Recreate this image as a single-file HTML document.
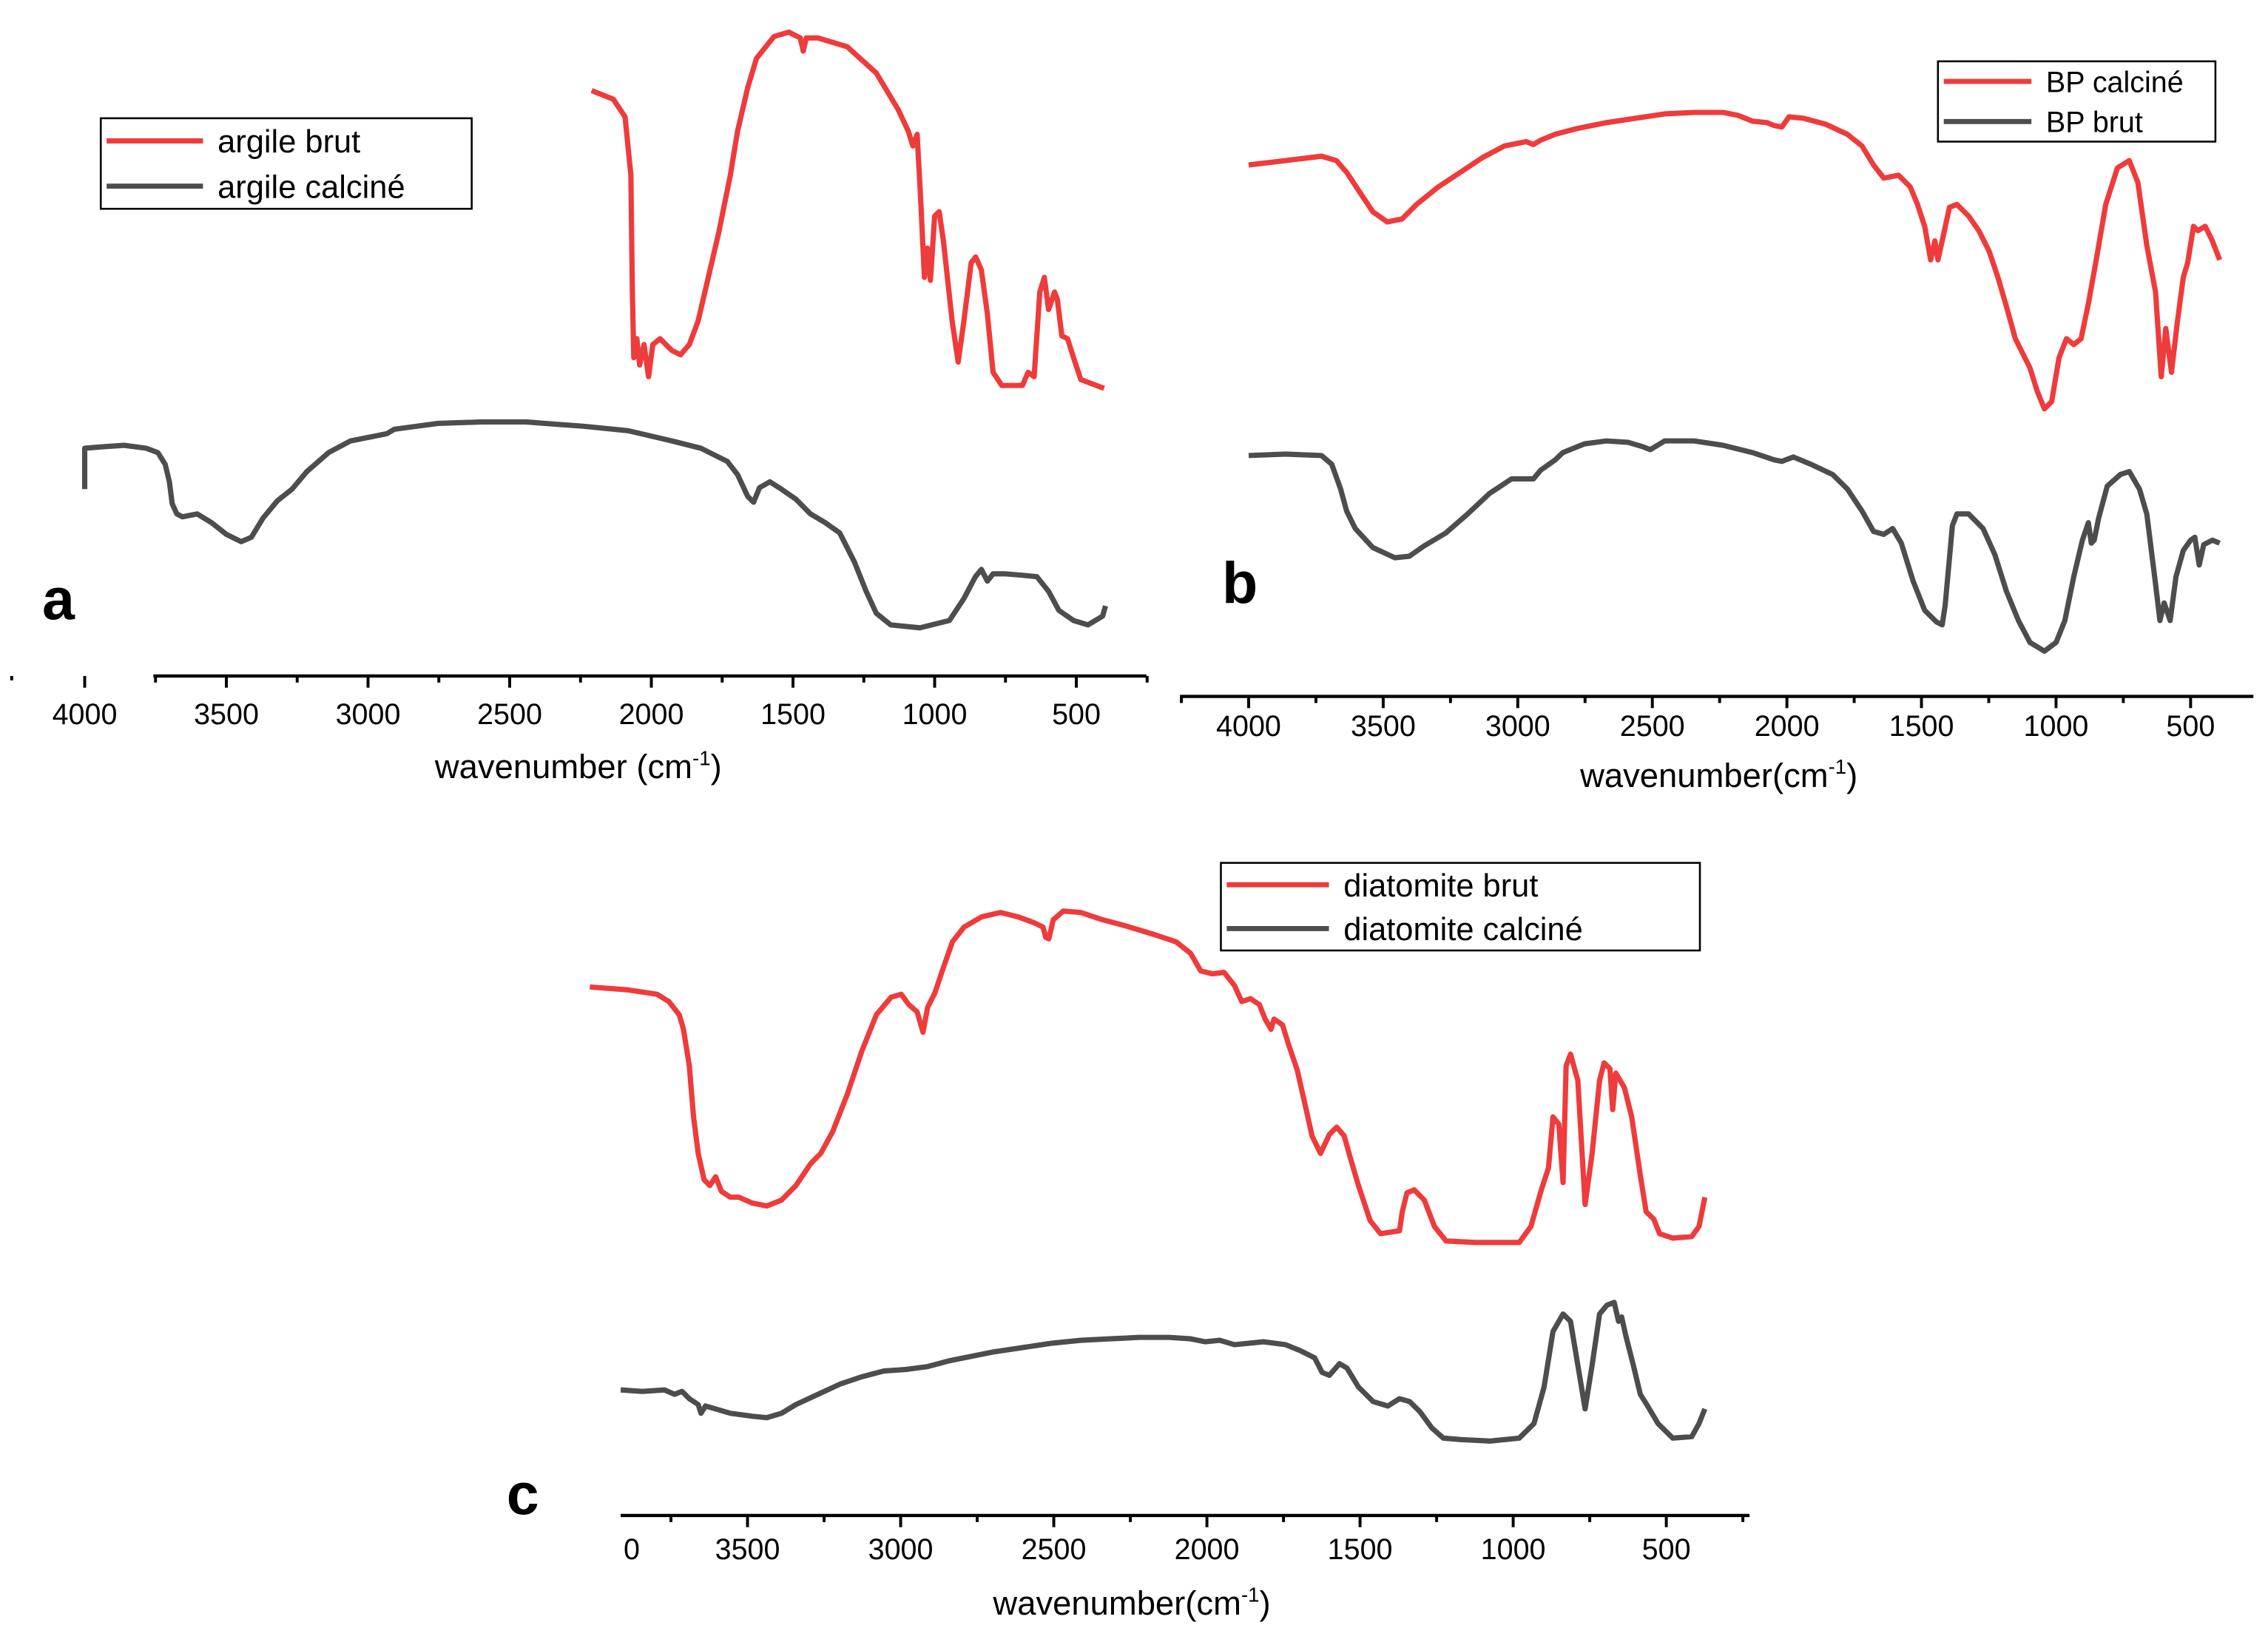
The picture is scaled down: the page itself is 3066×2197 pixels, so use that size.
<!DOCTYPE html>
<html><head><meta charset="utf-8"><style>
html,body{margin:0;padding:0;background:#fff;}
svg{display:block;}
text{font-family:"Liberation Sans",Arial,sans-serif;fill:#000;}
</style></head><body>
<svg id="fig" xmlns="http://www.w3.org/2000/svg" width="3066" height="2197" viewBox="0 0 1553 1113" preserveAspectRatio="none">
</svg>
<script>
// ---------- Panel a (argile) ----------
const aRedW = [2211,2134,2093,2072,2067,2062,2051,2041,2026,2010,1995,1969,1928,1897,1866,1835,1799,1763,1721,1696,1660,1629,1567,1515,1474,1464,1453,1412,1309,1206,1129,1093,1077,1062,1051,1036,1026,1015,1000,984,969,938,917,897,871,855,835,814,794,763,690,670,649,629,613,598,577,567,551,531,510,484,443,402];
const aRedT = [408,402,390,350,270,225,238,220,234,212,234,238,230,227,234,250,280,310,350,380,410,430,445,448,444,435,444,444,438,420,395,380,370,378,340,280,300,278,322,325,305,250,222,250,290,294,285,255,215,206,206,215,212,270,280,258,270,265,240,238,225,210,207,204];
const aBlkW = [4000,4000,3938,3861,3783,3742,3716,3701,3691,3675,3655,3603,3552,3500,3448,3412,3371,3320,3268,3216,3139,3062,2984,2933,2907,2830,2753,2598,2443,2237,2082,1928,1825,1732,1696,1660,1639,1618,1582,1541,1489,1438,1386,1335,1283,1242,1206,1155,1052,948,897,856,835,814,794,753,690,639,598,562,510,459,407,397];
const aBlkT = [135,163,164,165,163,160,152,140,125,118,116,118,112,104,99,102,115,127,135,147,160,168,171,173,176,178,180,181,181,178,175,168,163,154,145,130,126,136,140,135,128,118,112,105,85,65,50,42,40,45,60,75,80,72,77,77,76,75,65,52,45,42,48,55];
// ---------- Panel b (BP) ----------
const bRedW = [4000,3864,3729,3674,3636,3593,3539,3485,3430,3376,3295,3213,3132,3050,2969,2942,2915,2861,2779,2671,2562,2454,2345,2237,2182,2128,2074,2047,2019,1992,1938,1857,1775,1721,1678,1640,1585,1542,1515,1488,1466,1450,1439,1423,1396,1368,1325,1287,1249,1216,1184,1151,1124,1097,1070,1043,1016,989,961,934,907,880,848,815,772,728,696,663,630,609,592,571,549,527,511,489,473,446,419,392];
const bRedT = [364,367,370,367,359,347,332,325,327,337,349,359,369,377,380,378,381,385,389,393,396,399,400,400,398,394,393,391,390,397,396,392,385,377,364,355,357,349,337,322,299,312,299,312,335,337,329,319,305,287,267,245,235,225,209,197,202,232,245,241,245,269,302,337,362,367,352,309,277,219,252,222,257,287,297,322,319,322,312,299];
const bBlkW = [4000,3864,3729,3691,3658,3636,3604,3539,3457,3403,3349,3267,3186,3105,3023,2942,2915,2861,2833,2752,2671,2589,2535,2508,2454,2345,2237,2128,2047,2019,1976,1911,1830,1775,1721,1678,1640,1607,1575,1531,1488,1444,1423,1412,1385,1368,1325,1271,1227,1184,1140,1097,1043,1000,967,934,902,880,869,858,842,810,761,728,690,663,630,614,598,576,554,527,500,484,468,451,419,392];
const bBlkT = [165,166,165,159,142,127,115,102,95,96,103,112,125,139,149,149,155,162,167,173,175,174,171,169,175,175,172,167,162,161,164,159,152,142,127,113,111,115,105,79,59,51,49,62,117,125,125,115,97,72,52,37,31,37,52,82,107,119,105,107,122,144,152,154,142,125,77,52,64,52,82,100,107,109,90,104,107,105];
// ---------- Panel c (diatomite) ----------
const cRedW = [4015,3890,3795,3757,3723,3709,3690,3676,3661,3642,3623,3604,3585,3556,3528,3485,3437,3389,3342,3294,3261,3222,3175,3127,3079,3031,2998,2974,2946,2927,2912,2888,2864,2831,2793,2736,2674,2616,2564,2535,2526,2516,2502,2469,2411,2340,2268,2173,2101,2053,2020,1982,1944,1910,1886,1858,1829,1810,1791,1781,1753,1734,1705,1681,1657,1629,1600,1576,1552,1529,1505,1467,1433,1371,1362,1347,1323,1290,1257,1219,1123,980,942,908,885,870,851,837,827,813,789,765,742,718,703,684,675,665,637,613,585,566,541,522,479,417,393,374];
const cRedT = [362,360,357,352,343,333,308,273,248,230,226,232,222,218,218,214,212,216,226,241,248,263,288,318,343,355,357,350,345,331,348,358,373,393,403,410,413,410,406,403,396,395,408,414,413,408,404,398,393,385,373,371,372,363,352,354,350,340,333,340,336,323,305,283,260,248,261,266,260,243,226,202,193,195,208,221,223,216,198,188,187,187,198,223,238,273,268,228,308,316,298,213,248,298,310,306,278,303,293,273,233,208,203,193,190,191,198,218];
const cBlkW = [3914,3843,3771,3738,3714,3690,3661,3652,3637,3604,3556,3485,3437,3389,3342,3270,3198,3127,3055,2984,2912,2841,2769,2698,2602,2507,2411,2316,2220,2125,2053,2006,1958,1910,1863,1815,1743,1696,1648,1624,1600,1567,1543,1505,1457,1409,1371,1338,1304,1266,1228,1171,1075,980,932,899,870,837,813,789,765,742,718,694,670,656,646,632,608,585,561,527,479,417,393,374];
const cBlkT = [86,85,86,83,85,80,76,70,75,73,70,68,67,70,76,83,90,95,99,100,102,106,109,112,115,118,120,121,122,122,121,119,120,117,118,119,117,113,108,98,96,104,101,88,78,75,80,78,71,60,53,52,51,53,63,88,126,138,133,103,73,103,138,144,146,133,136,123,103,83,75,63,53,54,63,73];
const tickLabels = ["4000","3500","3000","2500","2000","1500","1000","500"];
const tickValues = [4000,3500,3000,2500,2000,1500,1000,500];

const NS = "http://www.w3.org/2000/svg";
const svg = document.getElementById('fig');
const RED = "#ee3b3b", GRAY = "#4d4d4d";
function el(tag, attrs, parent){const e=document.createElementNS(NS,tag);for(const k in attrs)e.setAttribute(k,attrs[k]);(parent||svg).appendChild(e);return e;}

function makeX(x4000, x500){const k=(x500-x4000)/3500;return w=>x4000+(4000-w)*k;}
function makeY(base){return t=>base-t;}

function drawSeries(g, W, T, xf, yf, color, name){
  let d="";
  for(let i=0;i<W.length;i++){d+=(i?"L":"M")+xf(W[i]).toFixed(1)+","+yf(T[i]).toFixed(1);}
  const p=el('path',{d:d,fill:"none",stroke:color,"stroke-width":3.6,"stroke-linejoin":"round"},g);
  
  
}

function drawAxis(g, xf, axisY, x0, x1, labelY, showFirst){
  const ax=el('line',{x1:x0,y1:axisY,x2:x1,y2:axisY,stroke:"#000","stroke-width":2.2},g);
  
  
  for(let w=4250; w>=250; w-=250){
    const x=xf(w); if(x<x0-1||x>x1+1) continue;
    const major = (w%500===0);
    const t=el('line',{x1:x,y1:axisY,x2:x,y2:axisY+(major?8:4.5),stroke:"#000","stroke-width":2},g);
    
    
  }
  for(let i=0;i<tickLabels.length;i++){
    const x=xf(tickValues[i]);
    if(i===0 && !showFirst) continue;
    const tx=el('text',{x:x,y:labelY,"font-size":20,"text-anchor":"middle"},g);
    tx.textContent=tickLabels[i];
    
    
  }
}

function drawTitle(g, cx, y, txt){
  const t=el('text',{x:cx,y:y,"font-size":23,"text-anchor":"middle"},g);
  
  
  const a=el('tspan',{},t); a.textContent=txt;
  const b=el('tspan',{dy:-9,"font-size":14},t); b.textContent="-1";
  const c=el('tspan',{dy:9},t); c.textContent=")";
}

function drawLegend(g, bx, by, bw, bh, items, fs){
  const box=el('rect',{x:bx,y:by,width:bw,height:bh,fill:"#fff",stroke:"#000","stroke-width":1.3},g);
  
  
  const step=bh/2;
  items.forEach((it,i)=>{
    const y=by+step*(i+0.5);
    const ln=el('line',{x1:bx+4,y1:y,x2:bx+4+it.len,y2:y,stroke:it.color,"stroke-width":3.5},g);
    
    
    const t=el('text',{x:bx+14+it.len,y:y+fs*0.36,"font-size":fs,"xml:space":"preserve"},g);
    t.textContent=it.label;
    
    
  });
}

function panelLetter(g,x,y,l){
  const t=el('text',{x:x,y:y,"font-size":40,"font-weight":"bold","text-anchor":"middle"},g);
  t.textContent=l;
  
  
}

// Panel a
{
  const g=el('g',{});  
  const xf=makeX(58,737), yf=makeY(470);
  drawSeries(g,aRedW,aRedT,xf,yf,RED,'argile-brut-line');
  drawSeries(g,aBlkW,aBlkT,xf,yf,GRAY,'argile-calcine-line');
  drawAxis(g,xf,463,105,785,496,true);
  const m=el('line',{x1:xf(4000),y1:463,x2:xf(4000),y2:471,stroke:"#000","stroke-width":2},g);
   
  const dot=el('rect',{x:7,y:463,width:2,height:3,fill:"#000"},g);
   
  drawTitle(g,396,533,"wavenumber (cm");
  drawLegend(g,69,81,254,62,[{color:RED,label:"argile brut",len:66},{color:GRAY,label:"argile calciné",len:66}],22);
  panelLetter(g,40,424,"a");
}
// Panel b
{
  const g=el('g',{});  
  const xf=makeX(855,1500), yf=makeY(477);
  drawSeries(g,bRedW,bRedT,xf,yf,RED,'bp-calcine-line');
  drawSeries(g,bBlkW,bBlkT,xf,yf,GRAY,'bp-brut-line');
  drawAxis(g,xf,477,808,1543,504,true);
  drawTitle(g,1177,539,"wavenumber(cm");
  drawLegend(g,1327,42,190,55,[{color:RED,label:"BP  calciné",len:60},{color:GRAY,label:"BP brut",len:60}],20);
  panelLetter(g,849,413,"b");
}
// Panel c
{
  const g=el('g',{});  
  const xf=makeX(407,1141), yf=makeY(1038);
  drawSeries(g,cRedW,cRedT,xf,yf,RED,'diatomite-brut-line');
  drawSeries(g,cBlkW,cBlkT,xf,yf,GRAY,'diatomite-calcine-line');
  drawAxis(g,xf,1038,425,1198,1068,false);
  const z=el('text',{x:427,y:1068,"font-size":20},g); z.textContent="0";
   
  drawTitle(g,775,1106,"wavenumber(cm");
  drawLegend(g,836,591,328,60,[{color:RED,label:"diatomite brut",len:70},{color:GRAY,label:"diatomite calciné",len:70}],22);
  panelLetter(g,358,1037,"c");
}
</script>
</body></html>
